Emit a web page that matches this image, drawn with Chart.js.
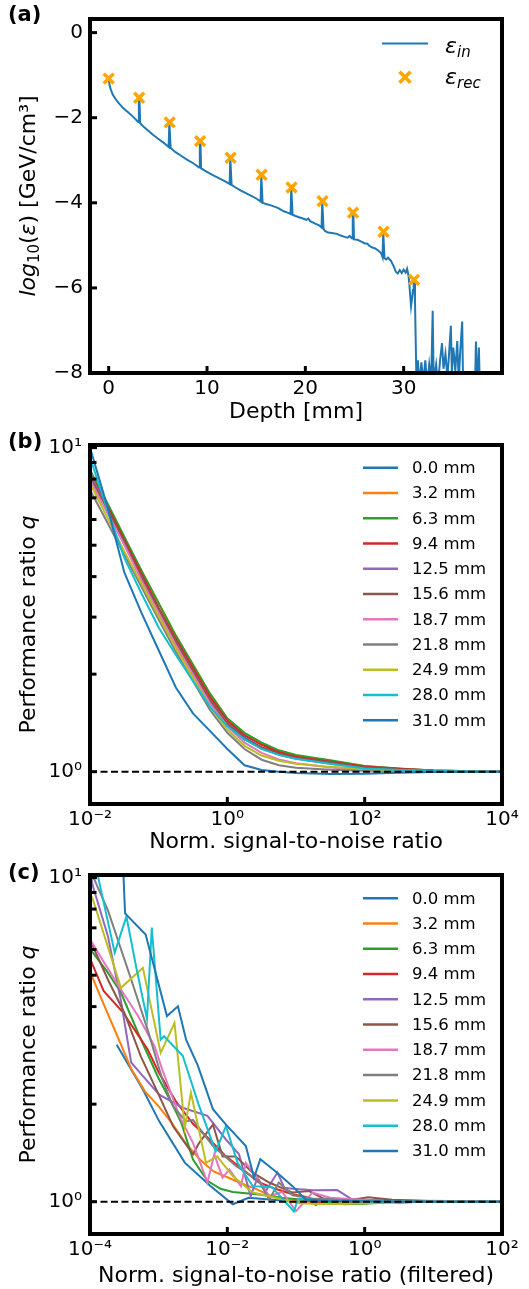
<!DOCTYPE html>
<html>
<head>
<meta charset="utf-8">
<script src="https://cdn.jsdelivr.net/npm/chart.js@4.4.1/dist/chart.umd.min.js"></script>
<style>
  html, body { margin: 0; padding: 0; background: #fff; }
  #wrap { position: relative; width: 529px; height: 1289px; }
  canvas { position: absolute; left: 0; display: block; }
</style>
</head>
<body>
<div id="wrap">
  <canvas id="panelA" width="529" height="425" style="top:0px"></canvas>
  <canvas id="panelB" width="529" height="430" style="top:425px"></canvas>
  <canvas id="panelC" width="529" height="434" style="top:855px"></canvas>
</div>
<script>
// ---------- panel (a): energy density vs depth (log10 values) ----------
const epsInPoints = [
  [0.0,-1.08],[0.08,-1.22],[0.2,-1.33],[0.4,-1.45],[0.7,-1.56],[1.0,-1.65],[1.5,-1.78],[2.0,-1.88],[2.5,-1.98],
  [3.0,-2.10],[3.07,-1.53],[3.13,-1.53],[3.2,-2.13],[3.5,-2.20],[4.0,-2.30],[4.5,-2.40],[5.0,-2.49],[5.6,-2.59],
  [6.1,-2.69],[6.17,-2.11],[6.23,-2.11],[6.3,-2.71],[6.8,-2.81],[7.4,-2.90],[8.0,-2.99],[8.6,-3.07],
  [9.2,-3.17],[9.27,-2.55],[9.33,-2.55],[9.4,-3.19],[9.9,-3.26],[10.5,-3.34],[11.2,-3.42],[11.8,-3.49],
  [12.3,-3.56],[12.37,-2.94],[12.43,-2.94],[12.5,-3.58],[12.9,-3.64],[13.4,-3.71],[14.0,-3.78],[14.6,-3.85],[15.1,-3.91],
  [15.45,-3.97],[15.52,-3.34],[15.58,-3.34],[15.65,-4.00],[16.0,-4.03],[16.5,-4.06],[17.0,-4.10],[17.3,-4.13],[17.5,-4.16],[17.8,-4.20],[18.2,-4.23],
  [18.5,-4.26],[18.57,-3.64],[18.63,-3.64],[18.7,-4.28],[19.0,-4.31],[19.5,-4.35],[19.9,-4.38],[20.1,-4.40],[20.3,-4.37],[20.5,-4.43],[21.0,-4.49],[21.4,-4.53],
  [21.65,-4.58],[21.72,-3.96],[21.78,-3.96],[21.85,-4.61],[22.0,-4.66],[22.3,-4.70],[22.7,-4.71],[23.2,-4.73],[23.6,-4.77],[24.0,-4.80],[24.3,-4.82],[24.5,-4.78],
  [24.75,-4.84],[24.82,-4.23],[24.88,-4.23],[24.95,-4.86],[25.3,-4.87],[25.7,-4.91],[26.0,-4.95],[26.3,-4.96],[26.5,-5.01],[26.8,-5.05],[27.1,-5.07],[27.4,-5.12],[27.7,-5.18],
  [27.85,-5.28],[27.92,-4.68],[27.98,-4.68],[28.05,-5.30],[28.2,-5.33],[28.4,-5.29],[28.7,-5.36],[29.0,-5.50],[29.2,-5.62],[29.4,-5.66],[29.6,-5.58],[29.8,-5.65],
  [30.0,-5.57],[30.2,-5.64],[30.35,-5.55],[30.5,-5.72],[30.6,-5.98],[30.75,-6.43],[30.85,-6.25],[30.95,-6.05],[31.02,-5.81],[31.08,-5.81],[31.15,-6.3],
  [31.3,-8.2],[31.45,-7.7],[31.6,-8.3],[31.8,-7.75],[32.0,-8.2],[32.2,-7.7],[32.4,-8.3],[32.6,-7.8],[32.8,-8.2],[32.95,-6.54],[33.05,-8.2],
  [33.3,-7.8],[33.5,-8.3],[33.7,-7.7],[33.9,-7.3],[34.05,-7.9],[34.25,-7.55],[34.45,-8.1],[34.6,-7.6],[34.8,-6.89],[34.9,-8.0],[35.05,-7.4],
  [35.25,-7.95],[35.45,-7.25],[35.6,-8.2],[35.75,-7.5],[35.95,-6.79],[36.05,-8.4],[36.3,-9.0],[37.2,-9.0],[37.35,-7.26],[37.5,-8.4],
  [37.65,-7.40],[37.75,-8.4],[38.0,-9.0]
];
const depthRec = [0.0, 3.1, 6.2, 9.3, 12.4, 15.55, 18.6, 21.75, 24.85, 27.95, 31.05];
const logEpsRec = [-1.08, -1.53, -2.11, -2.55, -2.94, -3.34, -3.64, -3.96, -4.23, -4.68, -5.81];
const depthTicks = [0, 10, 20, 30];
const logEpsTicks = [0, -2, -4, -6, -8];

// ---------- panel (b): performance ratio vs SNR ----------
const layerLabels = ['0.0 mm','3.2 mm','6.3 mm','9.4 mm','12.5 mm','15.6 mm','18.7 mm','21.8 mm','24.9 mm','28.0 mm','31.0 mm'];
const snrB = [0.01, 0.0178, 0.0316, 0.0562, 0.1, 0.178, 0.316, 0.562, 1, 1.78, 3.16, 5.62, 10, 31.6, 100, 316, 1000, 10000];
const qB00 = [8.511, 6.607, 5.129, 3.981, 3.090, 2.455, 1.995, 1.641, 1.413, 1.274, 1.189, 1.143, 1.109, 1.072, 1.033, 1.016, 1.007, 1.000];
const qB03 = [8.128, 6.607, 5.248, 4.169, 3.311, 2.630, 2.138, 1.738, 1.455, 1.312, 1.225, 1.161, 1.122, 1.079, 1.040, 1.021, 1.009, 1.000];
const qB06 = [8.511, 6.761, 5.309, 4.169, 3.311, 2.630, 2.138, 1.738, 1.462, 1.318, 1.230, 1.164, 1.127, 1.084, 1.042, 1.023, 1.009, 1.000];
const qB09 = [8.318, 6.607, 5.188, 4.074, 3.199, 2.570, 2.089, 1.698, 1.435, 1.294, 1.211, 1.148, 1.112, 1.074, 1.038, 1.021, 1.009, 1.000];
const qB12 = [8.318, 6.457, 5.012, 3.981, 3.126, 2.512, 2.042, 1.660, 1.413, 1.259, 1.180, 1.127, 1.096, 1.059, 1.028, 1.014, 1.007, 1.000];
const qB15 = [8.128, 6.457, 5.129, 3.981, 3.162, 2.512, 2.042, 1.660, 1.406, 1.259, 1.189, 1.135, 1.102, 1.067, 1.033, 1.016, 1.007, 1.000];
const qB18 = [7.943, 6.310, 5.012, 3.890, 3.090, 2.455, 1.995, 1.622, 1.380, 1.230, 1.143, 1.091, 1.062, 1.030, 1.014, 1.007, 1.005, 1.000];
const qB21 = [7.413, 5.888, 4.677, 3.715, 2.951, 2.344, 1.905, 1.549, 1.318, 1.175, 1.089, 1.047, 1.028, 1.014, 1.007, 1.005, 1.002, 1.000];
const qB24 = [7.762, 6.095, 4.786, 3.802, 3.020, 2.399, 1.950, 1.585, 1.349, 1.202, 1.122, 1.081, 1.059, 1.035, 1.019, 1.009, 1.005, 1.000];
const qB28 = [9.333, 6.457, 4.571, 3.548, 2.786, 2.291, 1.905, 1.585, 1.380, 1.259, 1.175, 1.127, 1.096, 1.059, 1.023, 1.012, 1.005, 1.000];
const qB31 = [10.0, 6.607, 4.121, 3.090, 2.371, 1.820, 1.514, 1.334, 1.175, 1.047, 1.012, 1.000, 0.991, 0.984, 0.986, 0.993, 0.998, 1.000];
const refLineB = [[0.01, 1], [10000, 1]];

// ---------- panel (c): performance ratio vs filtered SNR, [snr, q] ----------
const qC00 = [[2.45e-4,3.05],[5.89e-4,2.22],[1.02e-3,1.77],[2.40e-3,1.32],[5.62e-3,1.12],[1.20e-2,0.982],[2.04e-2,1.028],[5.01e-2,1.012],[0.1,1.0],[1,1.0],[100,1.0]];
const qC03 = [[1e-4,5.13],[1.58e-4,4.07],[2.51e-4,3.24],[3.98e-4,2.57],[6.31e-4,2.19],[1e-3,1.97],[1.58e-3,1.74],[2.51e-3,1.51],[3.98e-3,1.35],[6.31e-3,1.24],[1e-2,1.19],[1.58e-2,1.14],[2.51e-2,1.10],[3.98e-2,1.05],[7.08e-2,1.016],[0.158,0.991],[0.398,1.0],[3.16,1.005],[100,1.0]];
const qC06 = [[1e-4,6.03],[1.78e-4,5.13],[2.82e-4,4.42],[5.25e-4,3.24],[1e-3,2.40],[1.58e-3,2.00],[2.14e-3,1.75],[3.16e-3,1.35],[5.13e-3,1.16],[7.94e-3,1.096],[1.2e-2,1.072],[2.88e-2,1.052],[6.31e-2,1.028],[0.158,1.009],[0.501,0.982],[1,0.986],[3.16,1.0],[100,1.0]];
const qC09 = [[1e-4,5.62],[1.58e-4,4.47],[3.02e-4,3.84],[6.92e-4,2.95],[1e-3,2.51],[1.78e-3,2.04],[3.16e-3,1.74],[5.62e-3,1.55],[9.55e-3,1.38],[1.78e-2,1.245],[2.88e-2,1.148],[5.01e-2,1.096],[8.91e-2,1.054],[0.141,1.035],[0.195,0.977],[0.251,1.012],[0.631,1.0],[100,1.0]];
const qC12 = [[1e-4,10.5],[1.1e-4,9.42],[1.82e-4,6.61],[2.82e-4,4.17],[3.98e-4,2.69],[5.25e-4,2.51],[1.02e-3,2.14],[2.24e-3,1.95],[5.13e-3,1.84],[9.55e-3,1.556],[1.48e-2,1.40],[2.19e-2,1.04],[2.75e-2,1.186],[3.63e-2,1.079],[5.37e-2,1.23],[6.76e-2,1.104],[8.91e-2,1.096],[0.178,1.084],[0.398,1.086],[0.661,1.016],[3.16,1.007],[100,1.0]];
const qC15 = [[1e-4,6.31],[1.1e-4,6.15],[1.82e-4,4.85],[3.16e-4,3.83],[5.5e-4,2.81],[1e-3,2.14],[1.62e-3,1.71],[3.16e-3,1.40],[3.89e-3,1.52],[6.17e-3,1.73],[8.51e-3,1.38],[1.32e-2,1.38],[2.34e-2,1.23],[4.07e-2,1.146],[8.91e-2,1.067],[0.155,1.079],[0.251,1.023],[0.631,1.012],[1.12,1.033],[2.51,1.014],[10,1.005],[100,1.0]];
const qC18 = [[1e-4,6.46],[1.58e-4,5.50],[2.82e-4,4.52],[5.01e-4,3.74],[8.71e-4,3.02],[1.12e-3,2.57],[2.0e-3,1.84],[3.16e-3,1.52],[5.13e-3,1.146],[6.46e-3,1.40],[8.51e-3,1.186],[1.07e-2,1.259],[1.58e-2,1.117],[1.86e-2,1.318],[2.82e-2,1.175],[4.07e-2,1.04],[6.31e-2,1.072],[0.1,0.935],[0.174,1.067],[0.316,1.028],[1,1.012],[3.16,0.989],[10,1.007],[100,1.0]];
const qC21 = [[1e-4,10.7],[1.1e-4,10.1],[1.82e-4,7.94],[3.98e-4,4.85],[6.92e-4,3.39],[1.12e-3,2.40],[1.62e-3,1.97],[2.51e-3,1.77],[3.16e-3,1.79],[6.17e-3,1.486],[1.35e-2,1.288],[2.88e-2,1.159],[4.07e-2,1.016],[5.62e-2,1.146],[8.91e-2,1.047],[0.174,1.023],[1,1.005],[100,1.0]];
const qC24 = [[1e-4,8.91],[1.1e-4,8.57],[2.82e-4,4.57],[5.89e-4,5.27],[1.07e-3,2.88],[1.70e-3,3.56],[2.0e-3,2.51],[2.40e-3,1.69],[2.95e-3,2.17],[4.90e-3,1.318],[7.08e-3,1.38],[1.2e-2,1.20],[2.34e-2,1.067],[5.01e-2,1.028],[0.11,0.989],[0.251,0.982],[0.631,0.986],[2.0,0.995],[10,1.0],[100,1.0]];
const qC28 = [[1e-4,15.8],[1.32e-4,10.0],[2.29e-4,5.87],[3.39e-4,7.59],[4.68e-4,5.33],[6.76e-4,3.67],[7.94e-4,7.01],[1.07e-3,3.16],[1.20e-3,3.24],[2.24e-3,2.82],[3.80e-3,2.00],[6.76e-3,1.43],[9.55e-3,1.71],[1.41e-2,1.318],[2.34e-2,1.117],[4.47e-2,1.109],[9.33e-2,0.933],[0.107,1.021],[0.316,1.007],[3.16,1.0],[100,1.0]];
const qC31 = [[2.69e-4,20],[3.24e-4,7.76],[6.46e-4,6.68],[1.32e-3,3.74],[1.91e-3,4.01],[2.51e-3,3.16],[3.72e-3,2.63],[6.17e-3,1.93],[9.55e-3,1.73],[1.86e-2,1.486],[2.45e-2,1.186],[3.02e-2,1.352],[5.01e-2,1.242],[8.91e-2,1.117],[0.138,1.016],[0.316,1.005],[3.16,1.0],[100,1.0]];
const refLineC = [[1e-4, 1], [100, 1]];

const qTicks = [1, 10];
const qMinorTicks = [2, 3, 4, 5, 6, 7, 8, 9];
const snrTicksB = [1e-2, 1, 1e2, 1e4];
const snrTicksC = [1e-4, 1e-2, 1, 1e2];

// ---------- styling helpers ----------
const FONT = 'DejaVu Sans';
const tab10 = ['#1f77b4','#ff7f0e','#2ca02c','#d62728','#9467bd','#8c564b','#e377c2','#7f7f7f','#bcbd22','#17becf','#1f77b4'];
Chart.defaults.font.family = FONT;
Chart.defaults.color = '#000';

const SUP = {'-':'\u207B','0':'\u2070','1':'\u00B9','2':'\u00B2','3':'\u00B3','4':'\u2074','5':'\u2075','6':'\u2076','7':'\u2077','8':'\u2078','9':'\u2079'};
function powLabel(v) {
  const e = String(Math.round(Math.log10(v)));
  return '10' + e.split('').map(c => SUP[c]).join('');
}
function minusLabel(v) {
  return v < 0 ? '\u2212' + Math.abs(v) : String(v);
}
function fixedTicks(values) {
  return scale => { scale.ticks = values.map(v => ({ value: v })); };
}
function seg(ctx, x1, y1, x2, y2) {
  ctx.beginPath(); ctx.moveTo(x1, y1); ctx.lineTo(x2, y2); ctx.stroke();
}
// draw text runs with mixed fonts, centred on x
function drawRuns(ctx, runs, x, y) {
  let total = 0;
  runs.forEach(r => { ctx.font = r.f; r.w = ctx.measureText(r.t).width; total += r.w; });
  let cx = x - total / 2;
  ctx.textAlign = 'left';
  ctx.textBaseline = 'alphabetic';
  runs.forEach(r => { ctx.font = r.f; ctx.fillText(r.t, cx, y + (r.dy || 0)); cx += r.w; });
}

function decor(cfg) {
  return {
    id: 'decor',
    afterDatasetsDraw(chart) {
      const { ctx, chartArea: a, scales } = chart;
      ctx.save();
      ctx.strokeStyle = '#000';
      ctx.lineCap = 'butt';
      ctx.lineWidth = 3;
      scales.x.ticks.forEach(t => {
        const p = scales.x.getPixelForValue(t.value);
        seg(ctx, p, a.bottom, p, a.bottom - 7);
      });
      scales.y.ticks.forEach(t => {
        const p = scales.y.getPixelForValue(t.value);
        seg(ctx, a.left, p, a.left + 7, p);
      });
      (cfg.yMinor || []).forEach(v => {
        const p = scales.y.getPixelForValue(v);
        seg(ctx, a.left, p, a.left + 6.5, p);
      });
      ctx.lineWidth = 4;
      ctx.strokeRect(a.left, a.top, a.right - a.left, a.bottom - a.top);
      ctx.restore();
    },
    afterDraw(chart) {
      const { ctx, chartArea: a } = chart;
      ctx.save();
      ctx.fillStyle = '#000';
      // panel letter
      ctx.font = 'bold 21px ' + FONT;
      ctx.textAlign = 'left';
      ctx.textBaseline = 'middle';
      ctx.fillText(cfg.letter, 8, cfg.letterY);
      // rotated y title
      ctx.save();
      ctx.translate(28, (a.top + a.bottom) / 2);
      ctx.rotate(-Math.PI / 2);
      drawRuns(ctx, cfg.yTitle, 0, 7);
      ctx.restore();
      // legend
      if (cfg.legend === 'energy') {
        ctx.strokeStyle = tab10[0];
        ctx.lineWidth = 2;
        seg(ctx, 382, 43.5, 428, 43.5);
        ctx.strokeStyle = '#ffa500';
        ctx.lineWidth = 3.5;
        seg(ctx, 399.5, 71.8, 410.5, 82.8);
        seg(ctx, 399.5, 82.8, 410.5, 71.8);
        ctx.textAlign = 'left';
        ctx.textBaseline = 'alphabetic';
        ctx.font = 'italic 22px ' + FONT;
        ctx.fillText('\u03B5', 445, 53);
        ctx.fillText('\u03B5', 445, 84);
        ctx.font = 'italic 15px ' + FONT;
        ctx.fillText('in', 457, 57);
        ctx.fillText('rec', 457, 88);
      } else if (cfg.legend === 'layers') {
        const rowH = 25.26;
        layerLabels.forEach((lab, i) => {
          const y = cfg.legendTop + i * rowH;
          ctx.strokeStyle = tab10[i];
          ctx.lineWidth = 2.5;
          seg(ctx, 363, y, 398, y);
          ctx.font = '16.5px ' + FONT;
          ctx.textAlign = 'left';
          ctx.textBaseline = 'middle';
          ctx.fillText(lab, 412, y + 1);
        });
      }
      ctx.restore();
    }
  };
}

function axisOpts(o) {
  return {
    type: o.type, min: o.min, max: o.max,
    afterBuildTicks: fixedTicks(o.ticks),
    afterFit: o.fit,
    grid: { display: false, drawTicks: false },
    border: { display: false },
    ticks: {
      autoSkip: false, maxRotation: 0, minRotation: 0, padding: o.pad,
      font: { family: FONT, size: 20 }, color: '#000', callback: o.fmt
    },
    title: o.title ? { display: true, text: o.title, color: '#000', font: { family: FONT, size: 22 }, padding: { top: 0, bottom: 0 } } : { display: false }
  };
}

function baseOptions(padTop, xAxis, yAxis) {
  return {
    responsive: false, animation: false, events: [],
    layout: { padding: { top: padTop, right: 27, left: 0, bottom: 0 } },
    plugins: { legend: { display: false }, tooltip: { enabled: false } },
    scales: { x: xAxis, y: yAxis }
  };
}

const qYTitle = [{ t: 'Performance ratio ', f: '22px ' + FONT }, { t: 'q', f: 'italic 22px ' + FONT }];

// ---------- panel (a) ----------
new Chart(document.getElementById('panelA'), {
  type: 'line',
  data: {
    datasets: [
      {
        label: 'eps_in',
        data: epsInPoints.map(p => ({ x: p[0], y: p[1] })),
        borderColor: tab10[0], borderWidth: 2, pointRadius: 0, tension: 0, order: 2
      },
      {
        label: 'eps_rec',
        data: depthRec.map((d, i) => ({ x: d, y: logEpsRec[i] })),
        showLine: false, pointStyle: 'crossRot', pointRadius: 7,
        pointBorderColor: '#ffa500', pointBorderWidth: 3.5, borderColor: '#ffa500', order: 1, clip: false
      }
    ]
  },
  options: baseOptions(14,
    axisOpts({ type: 'linear', min: -1.9, max: 40, ticks: depthTicks, fmt: v => String(v), pad: 4,
      fit: s => { s.height = 52; }, title: 'Depth [mm]' }),
    axisOpts({ type: 'linear', min: -8, max: 0.32, ticks: logEpsTicks, fmt: minusLabel, pad: 7,
      fit: s => { s.width = 90; } })
  ),
  plugins: [decor({
    letter: '(a)', letterY: 16, legend: 'energy',
    yTitle: [
      { t: 'log', f: 'italic 22px ' + FONT },
      { t: '10', f: '15px ' + FONT, dy: 4 },
      { t: '(', f: '22px ' + FONT },
      { t: '\u03B5', f: 'italic 22px ' + FONT },
      { t: ') [GeV/cm\u00B3]', f: '22px ' + FONT }
    ]
  })]
});

// ---------- panels (b) and (c) ----------
function layerDatasets(seriesData, refLine) {
  const sets = seriesData.map((pts, i) => ({
    label: layerLabels[i],
    data: pts,
    borderColor: tab10[i], borderWidth: 2, pointRadius: 0, tension: 0, order: 20 - i
  }));
  sets.push({
    label: 'q = 1',
    data: refLine.map(p => ({ x: p[0], y: p[1] })),
    borderColor: '#000', borderWidth: 2, borderDash: [7, 3.5], pointRadius: 0, order: 0
  });
  return sets;
}

const seriesB = [qB00, qB03, qB06, qB09, qB12, qB15, qB18, qB21, qB24, qB28, qB31]
  .map(qs => snrB.map((s, k) => ({ x: s, y: qs[k] })));
const seriesC = [qC00, qC03, qC06, qC09, qC12, qC15, qC18, qC21, qC24, qC28, qC31]
  .map(pts => pts.map(p => ({ x: p[0], y: p[1] })));

new Chart(document.getElementById('panelB'), {
  type: 'line',
  data: { datasets: layerDatasets(seriesB, refLineB) },
  options: baseOptions(20,
    axisOpts({ type: 'logarithmic', min: 1e-2, max: 1e4, ticks: snrTicksB, fmt: v => powLabel(v), pad: 4,
      fit: s => { s.height = 51; }, title: 'Norm. signal-to-noise ratio' }),
    axisOpts({ type: 'logarithmic', min: 0.795, max: 10.19, ticks: qTicks, fmt: v => powLabel(v), pad: 8,
      fit: s => { s.width = 90; } })
  ),
  plugins: [decor({ letter: '(b)', letterY: 18, legend: 'layers', legendTop: 42.7, yMinor: qMinorTicks, yTitle: qYTitle })]
});

new Chart(document.getElementById('panelC'), {
  type: 'line',
  data: { datasets: layerDatasets(seriesC, refLineC) },
  options: baseOptions(20,
    axisOpts({ type: 'logarithmic', min: 1e-4, max: 1e2, ticks: snrTicksC, fmt: v => powLabel(v), pad: 4,
      fit: s => { s.height = 55; }, title: 'Norm. signal-to-noise ratio (filtered)' }),
    axisOpts({ type: 'logarithmic', min: 0.795, max: 10.19, ticks: qTicks, fmt: v => powLabel(v), pad: 8,
      fit: s => { s.width = 90; } })
  ),
  plugins: [decor({ letter: '(c)', letterY: 19, legend: 'layers', legendTop: 43.3, yMinor: qMinorTicks, yTitle: qYTitle })]
});
</script>
</body>
</html>
